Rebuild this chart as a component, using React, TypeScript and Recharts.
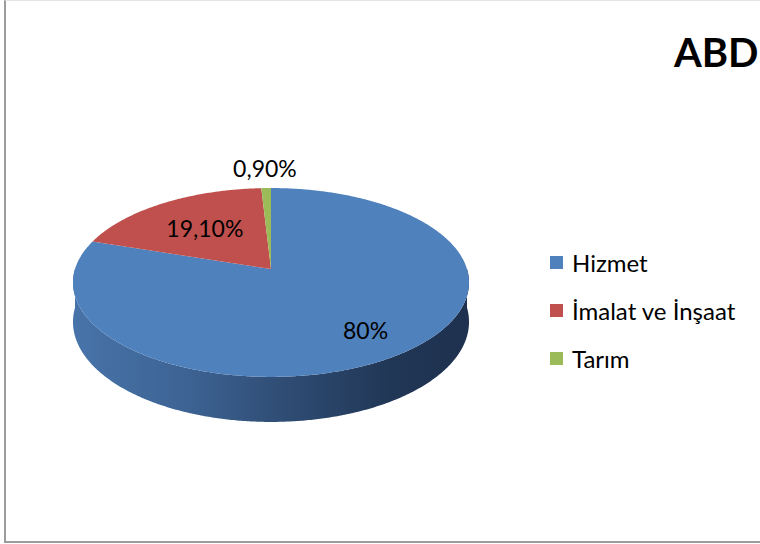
import React from 'react';
import { Cell, Legend, Pie, PieChart } from 'recharts';

// sector shares, in percent
const categories = ['Hizmet', 'İmalat ve İnşaat', 'Tarım'];
const shares = [80, 19.1, 0.9];
const topColors = ['#4f81bd', '#c0504d', '#9bbb59'];
const sideIds = ['sideBlue', 'sideRed', 'sideGreen'];
// how far out each label sits, as a share of the radius
const labelRadius = [0.75, 0.59, 1.29];

const data = categories.map((name, i) => ({ name, value: shares[i] }));

const W = 760;
const H = 544;
const CX = 271;
const CY = 269;
const R = 196;

// fake 3d: tilted disc seen with a little perspective
const TILT_SIN = 0.472;
const TILT_COS = 0.88;
const DIST = 1209;
const DEPTH = 38.6;

const FONT = 'Lato, "Open Sans", sans-serif';

function project(cx: number, cy: number, r: number, deg: number, drop = 0) {
  const a = (deg * Math.PI) / 180;
  const u = Math.cos(a);
  const v = Math.sin(a);
  const f = DIST / (DIST + r * v * TILT_COS);
  return [cx + r * u * f, cy - r * v * TILT_SIN * f + drop * f];
}

function arc(cx: number, cy: number, r: number, from: number, to: number, drop = 0) {
  const n = Math.max(2, Math.ceil(Math.abs(to - from) * 2));
  const pts: number[][] = [];
  for (let i = 0; i <= n; i++) {
    pts.push(project(cx, cy, r, from + ((to - from) * i) / n, drop));
  }
  return pts;
}

const toPath = (pts: number[][]) =>
  pts.map((p, i) => `${i ? 'L' : 'M'}${p[0].toFixed(2)},${p[1].toFixed(2)}`).join(' ');

function TopFace(props: any) {
  const { cx, cy, outerRadius, startAngle, endAngle, fill } = props;
  const pts = arc(cx, cy, outerRadius, startAngle, endAngle);
  return <path d={`M${cx},${cy} ${toPath(pts).replace(/^M/, 'L')} Z`} fill={fill} stroke="none" />;
}

function SideWall(props: any) {
  const { cx, cy, outerRadius, startAngle, endAngle, fill } = props;
  const lo = Math.min(startAngle, endAngle);
  const hi = Math.max(startAngle, endAngle);
  const parts: number[][] = [];
  // only the front half of the rim can be seen
  for (let k = -2; k <= 1; k++) {
    const a = Math.max(lo, -180 + 360 * k);
    const b = Math.min(hi, 360 * k);
    if (b > a) parts.push([a, b]);
  }
  return (
    <g>
      {parts.map(([a, b], i) => {
        const top = arc(cx, cy, outerRadius, a, b);
        const bottom = arc(cx, cy, outerRadius, b, a, DEPTH);
        return <path key={i} d={`${toPath(top)} ${toPath(bottom).replace(/^M/, 'L')} Z`} fill={fill} stroke="none" />;
      })}
    </g>
  );
}

function fmt(v: number) {
  return Number.isInteger(v) ? `${v}%` : `${v.toFixed(2).replace('.', ',')}%`;
}

function renderLabel(props: any) {
  const { cx, cy, outerRadius, midAngle, index, value } = props;
  const [x, y] = project(cx, cy, outerRadius * labelRadius[index], midAngle);
  return (
    <text
      x={x}
      y={y}
      textAnchor="middle"
      dominantBaseline="central"
      fontSize={23}
      fontFamily={FONT}
      fill="#000"
    >
      {fmt(value)}
    </text>
  );
}

function LegendList({ payload }: any) {
  const items = (payload || [])
    .filter((e: any) => e.type !== 'none' && !String(e.color).startsWith('url'))
    .sort((a: any, b: any) => categories.indexOf(a.value) - categories.indexOf(b.value));
  return (
    <div style={{ fontFamily: FONT, fontSize: 24, color: '#000' }}>
      {items.map((e: any) => (
        <div key={e.value} style={{ display: 'flex', alignItems: 'center', height: 48 }}>
          <span style={{ width: 13, height: 13, background: e.color, marginRight: 9, flex: 'none' }} />
          <span>{e.value}</span>
        </div>
      ))}
    </div>
  );
}

export default function App() {
  return (
    <div
      style={{
        position: 'absolute',
        left: 0,
        top: 0,
        width: W,
        height: H,
        overflow: 'hidden',
        background: '#fff',
      }}
    >
      <div
        style={{
          position: 'absolute',
          left: 4,
          top: 0,
          width: 820,
          height: 543,
          boxSizing: 'border-box',
          borderTop: '1px solid #e4e4e4',
          borderLeft: '2px solid #9c9c9c',
          borderBottom: '2px solid #9c9c9c',
        }}
      />
      <PieChart
        width={W}
        height={H}
        margin={{ top: 0, right: 0, bottom: 0, left: 0 }}
        style={{ position: 'absolute', left: 0, top: 0 }}
      >
        <defs>
          <linearGradient id="sideBlue" x1="0" y1="0" x2="1" y2="0">
            <stop offset="0%" stopColor="#4874aa" />
            <stop offset="30%" stopColor="#3c6292" />
            <stop offset="55%" stopColor="#2e4b72" />
            <stop offset="80%" stopColor="#213756" />
            <stop offset="100%" stopColor="#1e314f" />
          </linearGradient>
          <linearGradient id="sideRed" x1="0" y1="0" x2="1" y2="0">
            <stop offset="0%" stopColor="#a84340" />
            <stop offset="100%" stopColor="#5a2220" />
          </linearGradient>
          <linearGradient id="sideGreen" x1="0" y1="0" x2="1" y2="0">
            <stop offset="0%" stopColor="#88a64c" />
            <stop offset="100%" stopColor="#4a5d2a" />
          </linearGradient>
        </defs>
        <Pie
          data={data}
          dataKey="value"
          nameKey="name"
          cx={CX}
          cy={CY}
          outerRadius={R}
          startAngle={90}
          endAngle={-270}
          stroke="none"
          legendType="none"
          shape={SideWall}
          isAnimationActive={false}
        >
          {data.map((d, i) => (
            <Cell key={d.name} fill={`url(#${sideIds[i]})`} />
          ))}
        </Pie>
        <Pie
          data={data}
          dataKey="value"
          nameKey="name"
          cx={CX}
          cy={CY}
          outerRadius={R}
          startAngle={90}
          endAngle={-270}
          stroke="none"
          shape={TopFace}
          label={renderLabel}
          labelLine={false}
          isAnimationActive={false}
        >
          {data.map((d, i) => (
            <Cell key={d.name} fill={topColors[i]} />
          ))}
        </Pie>
        <Legend
          layout="vertical"
          align="right"
          verticalAlign="top"
          content={LegendList}
          wrapperStyle={{ left: 550, top: 238, width: 210, right: 'auto', bottom: 'auto' }}
        />
      </PieChart>
      <div
        style={{
          position: 'absolute',
          left: 674,
          top: 28,
          fontFamily: FONT,
          fontSize: 40,
          fontWeight: 700,
          lineHeight: 'normal',
          color: '#000',
          whiteSpace: 'nowrap',
        }}
      >
        ABD
      </div>
    </div>
  );
}
